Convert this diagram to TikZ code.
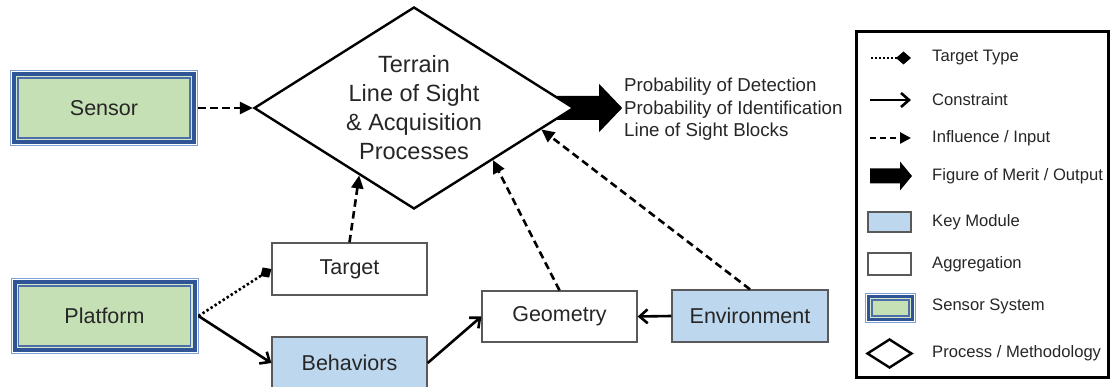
\documentclass[tikz,border=0pt]{standalone}
\usepackage{fontspec}
\setmainfont{Liberation Sans}
\usetikzlibrary{arrows.meta,shapes.geometric,calc}
\pgfdeclarelayer{background}
\pgfsetlayers{background,main}
\definecolor{ssgreen}{HTML}{C5E0B4}
\definecolor{ssdark}{HTML}{2F5597}
\definecolor{ssmid}{HTML}{7F9FD5}
\definecolor{sslight}{HTML}{D5E8CC}
\definecolor{keyblue}{HTML}{BDD7EE}
\definecolor{boxgray}{HTML}{595959}
\newcommand\bxfont{\fontsize{21.5}{26}\selectfont}
\newcommand\dmfont{\fontsize{23.5}{29}\selectfont}
\newcommand\outfont{\fontsize{18.7}{22.5}\selectfont}
\newcommand\lgfont{\fontsize{16.6}{20}\selectfont}
\tikzset{
  sensorsys/.style={fill=ssgreen, draw=ssdark!85, line width=1.6pt, inner sep=0pt,
    preaction={draw=ssmid, line width=16pt},
    preaction={draw=white, line width=14pt},
    preaction={draw=ssdark, line width=12pt},
    preaction={draw=sslight, line width=4pt},
    outer sep=8pt, minimum width=172pt, minimum height=60pt, font=\bxfont, text=black!85},
  sensorsmall/.style={fill=ssgreen, draw=ssdark!85, line width=1.2pt, inner sep=0pt,
    preaction={draw=ssmid, line width=14pt},
    preaction={draw=white, line width=12pt},
    preaction={draw=ssdark, line width=10pt},
    preaction={draw=sslight, line width=3.5pt},
    minimum width=37pt, minimum height=16pt},
  aggbox/.style={draw=boxgray, line width=1.3pt, fill=white, inner sep=0pt,
    minimum width=155pt, minimum height=52pt, font=\bxfont, text=black!85},
  keybox/.style={aggbox, fill=keyblue},
  procdiam/.style={diamond, draw=black, fill=white, line width=2.4pt, aspect=1.584,
    inner sep=0pt, minimum width=320pt, minimum height=202pt, align=center,
    font=\dmfont, text=black!85},
  inarrow/.style={line width=2.6pt, dash pattern=on 7.5pt off 4.5pt,
    -{Triangle[length=13pt,width=12pt]}},
  conarrow/.style={line width=2.6pt, -{Straight Barb[length=8pt,width=14pt]}},
  typearrow/.style={line width=2.6pt, dash pattern=on 2.4pt off 2.4pt,
    -{Diamond[length=13pt,width=12pt]}},
  lgtext/.style={anchor=west, font=\lgfont, inner sep=0pt, text=black!85},
}
\begin{document}
\begin{tikzpicture}[x=1pt,y=-1pt]
\useasboundingbox (0,0) rectangle (1110,387);

% main nodes
\node[sensorsys] (sensor) at (104,108) {Sensor};
\node[sensorsys] (platform) at (104.5,316) {Platform};
\node[procdiam] (proc) at (414,108) {Terrain\\Line of Sight\\\& Acquisition\\Processes};
\node[aggbox] (target) at (349.5,269) {Target};
\node[keybox] (behav) at (349.5,363) {Behaviors};
\node[aggbox, minimum height=51pt] (geom) at (559.5,316.5) {Geometry};
\node[keybox, minimum width=156pt] (env) at (750,316) {Environment};

% output arrow (behind the diamond)
\begin{pgfonlayer}{background}
\fill[black] ($(proc.east)+(-29,-12)$) -- ($(proc.east)+(24,-12)$) -- ($(proc.east)+(24,-24)$)
  -- ($(proc.east)+(47,0)$) -- ($(proc.east)+(24,24)$) -- ($(proc.east)+(24,12)$)
  -- ($(proc.east)+(-29,12)$) -- cycle;
\end{pgfonlayer}
\node[anchor=west, align=left, font=\outfont, inner sep=0pt, text=black!85] (out) at (624,109.5)
  {Probability of Detection\\Probability of Identification\\Line of Sight Blocks};

% connectors
\draw[inarrow] (sensor.east) -- (proc.west);
\draw[inarrow] (target.north) -- ($(proc.west)!0.66!(proc.south)$);
\draw[inarrow] (geom.north) -- ($(proc.south)!0.49!(proc.east)$);
\draw[inarrow] (env.north) -- ($(proc.south)!0.79!(proc.east)$);
\draw[typearrow] (platform.east) -- (target.west);
\draw[conarrow] (platform.east) -- (behav.west);
\draw[conarrow] (behav.east) -- (geom.west);
\draw[conarrow] (env.west) -- (geom.east);

% legend
\node[draw=black, line width=3pt, minimum width=252pt, minimum height=345pt, inner sep=0pt] (legend) at (982,204.5) {};
\coordinate (l1a) at (871,58);  \coordinate (l1b) at (911,58);
\draw[line width=2.2pt, dash pattern=on 2pt off 2pt, -{Diamond[length=15pt,width=13pt]}] (l1a) -- (l1b);
\node[lgtext] (t1) at (932,58) {Target Type};
\coordinate (l2a) at (870,100); \coordinate (l2b) at (911,100);
\draw[conarrow] (l2a) -- (l2b);
\node[lgtext] (t2) at (932,100) {Constraint};
\coordinate (l3a) at (870,138); \coordinate (l3b) at (911,138);
\draw[line width=2.6pt, dash pattern=on 6pt off 4pt, -{Triangle[length=11pt,width=11pt]}] (l3a) -- (l3b);
\node[lgtext] (t3) at (932,138) {Influence / Input};
\coordinate (l4) at (870,176);
\fill[black] ($(l4)+(0,-7.5)$) -- ($(l4)+(30,-7.5)$) -- ($(l4)+(30,-14.5)$) -- ($(l4)+(42,0)$)
  -- ($(l4)+(30,14.5)$) -- ($(l4)+(30,7.5)$) -- ($(l4)+(0,7.5)$) -- cycle;
\node[lgtext] (t4) at (932,176) {Figure of Merit / Output};
\node[draw=boxgray, line width=1.3pt, fill=keyblue, minimum width=43pt, minimum height=20pt, inner sep=0pt] (k5) at (889.5,222) {};
\node[lgtext] (t5) at (932,222) {Key Module};
\node[draw=boxgray, line width=1.3pt, fill=white, minimum width=43pt, minimum height=22pt, inner sep=0pt] (k6) at (889.5,264) {};
\node[lgtext] (t6) at (932,264) {Aggregation};
\node[sensorsmall] (k7) at (890.5,308) {};
\node[lgtext] (t7) at (932,306) {Sensor System};
\node[diamond, draw=black, line width=2.4pt, aspect=1.55, inner sep=0pt, minimum width=45pt, minimum height=29pt] (k8) at (889.5,353.5) {};
\node[lgtext] (t8) at (932,353) {Process / Methodology};
\end{tikzpicture}
\end{document}
